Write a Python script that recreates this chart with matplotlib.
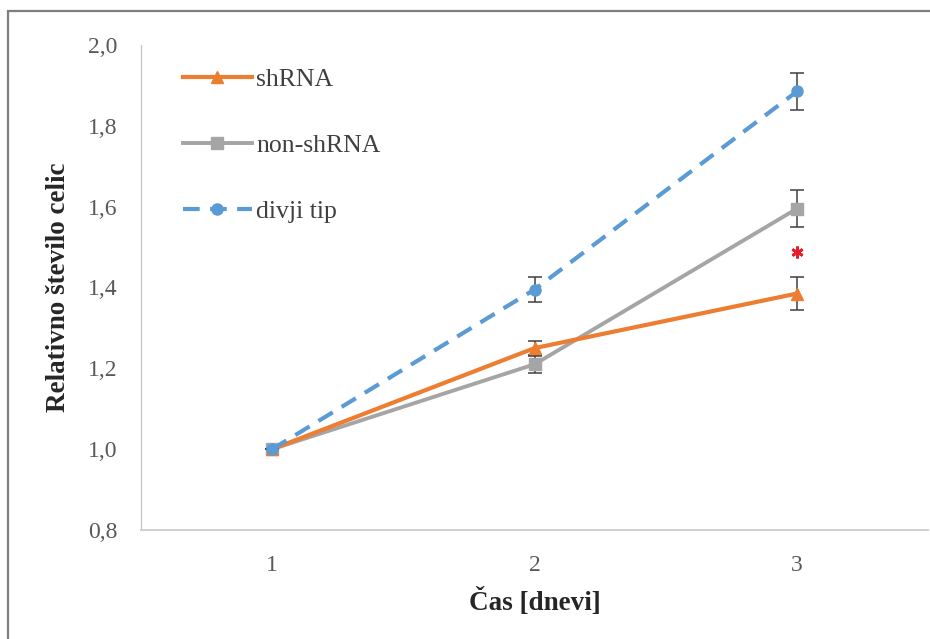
import matplotlib.pyplot as plt
from matplotlib.lines import Line2D
from matplotlib.patches import Rectangle

days = [1, 2, 3]
day_labels = ['1', '2', '3']

sh_rna = [1.0, 1.25, 1.385]
sh_rna_err = [0.0, 0.017, 0.04]

non_sh_rna = [1.0, 1.21, 1.595]
non_sh_rna_err = [0.0, 0.021, 0.046]

wild_type = [1.0, 1.395, 1.885]
wild_type_err = [0.0, 0.032, 0.046]

star_day = 3
star_value = 1.487

y_ticks = [0.8, 1.0, 1.2, 1.4, 1.6, 1.8, 2.0]

plt.rcParams['font.family'] = ['Liberation Serif', 'DejaVu Serif']

fig = plt.figure(figsize=(9.3, 6.39), dpi=100)
ax = fig.add_axes([0.1516, 0.1706, 0.8464, 0.759])

err_style = dict(ecolor='#404040', elinewidth=1.1, capsize=5, capthick=1.1)
styles = {
    'shRNA': dict(color='#ED7D31', lw=3.0, marker='^', ms=8),
    'non-shRNA': dict(color='#A5A5A5', lw=2.8, marker='s', ms=8),
    'divji tip': dict(color='#5B9BD5', lw=3.0, ls=(0, (4, 2.5)), marker='o', ms=8),
}

ax.errorbar(days, non_sh_rna, yerr=non_sh_rna_err, zorder=3,
            **styles['non-shRNA'], **err_style)
ax.errorbar(days, sh_rna, yerr=sh_rna_err, zorder=4,
            **styles['shRNA'], **err_style)
ax.errorbar(days, wild_type, yerr=wild_type_err, zorder=5,
            **styles['divji tip'], **err_style)

ax.plot([star_day], [star_value], marker=(6, 2, 0), color='#E0202E', ms=8.5,
        mew=2.0, ls='none', zorder=6)

ax.set_xlim(0.5, 3.5)
ax.set_ylim(0.8, 2.0)
ax.set_xticks(days)
ax.set_xticklabels(day_labels)
ax.set_yticks(y_ticks)
ax.set_yticklabels([f'{v:.1f}'.replace('.', ',') for v in y_ticks])
ax.tick_params(length=0, labelsize=17, colors='#595959')
ax.tick_params(axis='x', pad=18)
ax.tick_params(axis='y', pad=17)

for side in ['top', 'right']:
    ax.spines[side].set_visible(False)
ax.spines['left'].set_color('#BFBFBF')
ax.spines['bottom'].set_color('#D0D0D0')
ax.spines['bottom'].set_linewidth(1.4)

ax.set_xlabel('Čas [dnevi]', fontsize=19.5, fontweight='bold', color='#262626',
              labelpad=9)
ax.set_ylabel('Relativno število celic', fontsize=19.5, fontweight='bold',
              color='#262626', labelpad=12)

names = ['shRNA', 'non-shRNA', 'divji tip']
handles = [Line2D([], [], **styles[n]) for n in names]
ax.legend(handles, names, loc='upper left', bbox_to_anchor=(0.053, 0.953),
          frameon=False, fontsize=18.5, labelcolor='#404040',
          handlelength=2.7, handletextpad=0.15, labelspacing=1.68,
          borderpad=0, borderaxespad=0)

# outer frame of the picture (top and left edges visible)
fig.patches.append(Rectangle((0.0086, -0.05), 1.2, 1.0328,
                             transform=fig.transFigure, fill=False,
                             edgecolor='#7F7F7F', lw=1.6))

fig.savefig('out.png', dpi=100)
